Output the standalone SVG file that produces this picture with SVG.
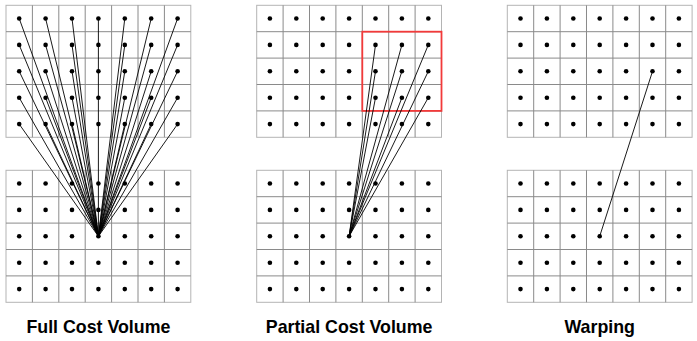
<svg xmlns="http://www.w3.org/2000/svg" xmlns:xlink="http://www.w3.org/1999/xlink" width="697" height="341" viewBox="0 0 697 341">
<style>
.bg{fill:#fff}
.outer{fill:none;stroke:#b4b4b4;stroke-width:1}
.inner{stroke:#8a8a8a;stroke-width:1}
.dot{fill:#000}
.conn line{stroke:#000;stroke-width:0.9}
.box{fill:none;stroke:#f23a3a;stroke-width:1.8}
.label{font-family:"Liberation Sans",Arial,sans-serif;font-weight:bold;font-size:17.8px;fill:#000;text-anchor:middle}
</style>
<defs>
<g id="grid">
<rect class="outer" x="0" y="0" width="184.8" height="132"/>
<g class="inner">
<line x1="26.4" y1="0" x2="26.4" y2="132"/>
<line x1="52.8" y1="0" x2="52.8" y2="132"/>
<line x1="79.2" y1="0" x2="79.2" y2="132"/>
<line x1="105.6" y1="0" x2="105.6" y2="132"/>
<line x1="132" y1="0" x2="132" y2="132"/>
<line x1="158.4" y1="0" x2="158.4" y2="132"/>
<line x1="0" y1="26.4" x2="184.8" y2="26.4"/>
<line x1="0" y1="52.8" x2="184.8" y2="52.8"/>
<line x1="0" y1="79.2" x2="184.8" y2="79.2"/>
<line x1="0" y1="105.6" x2="184.8" y2="105.6"/>
</g>
<g id="dotrow" class="dot">
<circle cx="13.2" cy="13.2" r="2.3"/>
<circle cx="39.6" cy="13.2" r="2.3"/>
<circle cx="66" cy="13.2" r="2.3"/>
<circle cx="92.4" cy="13.2" r="2.3"/>
<circle cx="118.8" cy="13.2" r="2.3"/>
<circle cx="145.2" cy="13.2" r="2.3"/>
<circle cx="171.6" cy="13.2" r="2.3"/>
</g>
<use xlink:href="#dotrow" href="#dotrow" y="26.4"/>
<use xlink:href="#dotrow" href="#dotrow" y="52.8"/>
<use xlink:href="#dotrow" href="#dotrow" y="79.2"/>
<use xlink:href="#dotrow" href="#dotrow" y="105.6"/>
</g>
</defs>
<rect class="bg" x="0" y="0" width="697" height="341"/>

<g id="full-top"><use xlink:href="#grid" href="#grid" x="6" y="5.3"/></g>
<g id="full-bottom"><use xlink:href="#grid" href="#grid" x="6" y="170.3"/></g>
<g id="partial-top"><use xlink:href="#grid" href="#grid" x="256.7" y="5.3"/><rect class="box" x="362.3" y="31.7" width="79.2" height="79.2"/></g>
<g id="partial-bottom"><use xlink:href="#grid" href="#grid" x="256.7" y="170.3"/></g>
<g id="warp-top"><use xlink:href="#grid" href="#grid" x="507.3" y="5.3"/></g>
<g id="warp-bottom"><use xlink:href="#grid" href="#grid" x="507.3" y="170.3"/></g>

<g id="connectors" class="conn">
<line x1="98.4" y1="236.3" x2="19.2" y2="18.5"/>
<line x1="98.4" y1="236.3" x2="45.6" y2="18.5"/>
<line x1="98.4" y1="236.3" x2="72" y2="18.5"/>
<line x1="98.4" y1="236.3" x2="98.4" y2="18.5"/>
<line x1="98.4" y1="236.3" x2="124.8" y2="18.5"/>
<line x1="98.4" y1="236.3" x2="151.2" y2="18.5"/>
<line x1="98.4" y1="236.3" x2="177.6" y2="18.5"/>
<line x1="98.4" y1="236.3" x2="19.2" y2="44.9"/>
<line x1="98.4" y1="236.3" x2="45.6" y2="44.9"/>
<line x1="98.4" y1="236.3" x2="72" y2="44.9"/>
<line x1="98.4" y1="236.3" x2="124.8" y2="44.9"/>
<line x1="98.4" y1="236.3" x2="151.2" y2="44.9"/>
<line x1="98.4" y1="236.3" x2="177.6" y2="44.9"/>
<line x1="98.4" y1="236.3" x2="19.2" y2="71.3"/>
<line x1="98.4" y1="236.3" x2="45.6" y2="71.3"/>
<line x1="98.4" y1="236.3" x2="72" y2="71.3"/>
<line x1="98.4" y1="236.3" x2="124.8" y2="71.3"/>
<line x1="98.4" y1="236.3" x2="151.2" y2="71.3"/>
<line x1="98.4" y1="236.3" x2="177.6" y2="71.3"/>
<line x1="98.4" y1="236.3" x2="19.2" y2="97.7"/>
<line x1="98.4" y1="236.3" x2="45.6" y2="97.7"/>
<line x1="98.4" y1="236.3" x2="72" y2="97.7"/>
<line x1="98.4" y1="236.3" x2="124.8" y2="97.7"/>
<line x1="98.4" y1="236.3" x2="151.2" y2="97.7"/>
<line x1="98.4" y1="236.3" x2="177.6" y2="97.7"/>
<line x1="98.4" y1="236.3" x2="19.2" y2="124.1"/>
<line x1="98.4" y1="236.3" x2="45.6" y2="124.1"/>
<line x1="98.4" y1="236.3" x2="72" y2="124.1"/>
<line x1="98.4" y1="236.3" x2="124.8" y2="124.1"/>
<line x1="98.4" y1="236.3" x2="151.2" y2="124.1"/>
<line x1="98.4" y1="236.3" x2="177.6" y2="124.1"/>

<line x1="349.1" y1="236.3" x2="375.5" y2="44.9"/>
<line x1="349.1" y1="236.3" x2="401.9" y2="44.9"/>
<line x1="349.1" y1="236.3" x2="428.3" y2="44.9"/>
<line x1="349.1" y1="236.3" x2="375.5" y2="71.3"/>
<line x1="349.1" y1="236.3" x2="401.9" y2="71.3"/>
<line x1="349.1" y1="236.3" x2="428.3" y2="71.3"/>
<line x1="349.1" y1="236.3" x2="375.5" y2="97.7"/>
<line x1="349.1" y1="236.3" x2="401.9" y2="97.7"/>
<line x1="349.1" y1="236.3" x2="428.3" y2="97.7"/>

<line x1="599.7" y1="236.3" x2="652.5" y2="71.3"/>
</g>

<g id="labels">
<text class="label" x="98.4" y="333">Full Cost Volume</text>
<text class="label" x="349.1" y="333">Partial Cost Volume</text>
<text class="label" x="599.7" y="333">Warping</text>
</g>
</svg>
